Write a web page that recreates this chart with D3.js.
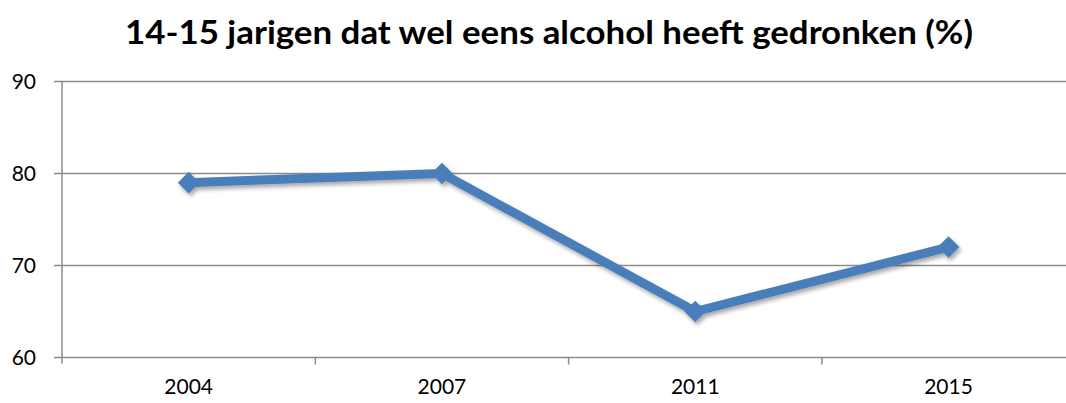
<!DOCTYPE html>
<html><head><meta charset="utf-8">
<script src="https://cdn.jsdelivr.net/npm/d3@7"></script>
<style>body{margin:0;background:#fff;overflow:hidden}</style>
</head><body>
<svg id="c" width="1066" height="403"></svg>
<script>
const years = ["2004","2007","2011","2015"];
const values = [79, 80, 65, 72];
const yTicks = [60, 70, 80, 90];
const title = "14-15 jarigen dat wel eens alcohol heeft gedronken (%)";

(function(){
const svg = d3.select("#c");
const font = "Lato, 'Open Sans', sans-serif";
const mLeft = 62, mTop = 81.5, mBottom = 357.5, band = 253.3;
const x = d3.scaleBand().domain(years).range([mLeft, mLeft + band*years.length]);
const y = d3.scaleLinear().domain([60, 90]).range([mBottom, mTop]);

svg.append("defs").append("filter").attr("id","sh")
  .attr("x","-50%").attr("y","-50%").attr("width","200%").attr("height","200%")
  .html('<feGaussianBlur in="SourceAlpha" stdDeviation="2"/><feOffset dx="2" dy="3" result="o"/><feComponentTransfer><feFuncA type="linear" slope="0.35"/></feComponentTransfer><feMerge><feMergeNode/><feMergeNode in="SourceGraphic"/></feMerge>');

svg.append("g").selectAll("line").data(yTicks).join("line")
  .attr("x1", mLeft - 8).attr("x2", 1066)
  .attr("y1", d => y(d)).attr("y2", d => y(d))
  .attr("stroke", "#8c8c8c").attr("stroke-width", 1.5);

svg.append("line").attr("x1", mLeft).attr("x2", mLeft)
  .attr("y1", mTop).attr("y2", mBottom + 6)
  .attr("stroke", "#8c8c8c").attr("stroke-width", 1.5);

const bounds = years.slice(1).map(d => x(d));
svg.append("g").selectAll("line").data(bounds).join("line")
  .attr("x1", d => d).attr("x2", d => d)
  .attr("y1", mBottom).attr("y2", mBottom + 7)
  .attr("stroke", "#8c8c8c").attr("stroke-width", 1.5);

svg.append("g").selectAll("text").data(yTicks).join("text")
  .attr("x", 36).attr("y", d => y(d)).attr("dy", "0.36em")
  .attr("text-anchor", "end").attr("font-family", font).attr("font-size", 21)
  .attr("fill", "#000").text(d => d);

svg.append("g").selectAll("text").data(years).join("text")
  .attr("x", d => x(d) + x.bandwidth()/2).attr("y", 394)
  .attr("text-anchor", "middle").attr("font-family", font).attr("font-size", 21)
  .attr("fill", "#000").text(d => d);

svg.append("text").attr("x", 549).attr("y", 44).attr("text-anchor", "middle")
  .attr("font-family", font).attr("font-weight", "bold").attr("font-size", 32)
  .attr("textLength", 848).attr("lengthAdjust", "spacingAndGlyphs")
  .attr("fill", "#000").text(title);

const pts = years.map((d, i) => [x(d) + x.bandwidth()/2, y(values[i])]);
const g = svg.append("g").attr("filter", "url(#sh)");
g.append("path").attr("d", d3.line()(pts))
  .attr("fill", "none").attr("stroke", "#4a7ebb").attr("stroke-width", 9)
  .attr("stroke-linejoin", "round");
g.selectAll("path.m").data(pts).join("path").attr("class","m")
  .attr("transform", d => `translate(${d[0]},${d[1]})`)
  .attr("d", d3.symbol().type(d3.symbolDiamond2).size(300))
  .attr("fill", "#4a7ebb");
})();
</script>
</body></html>
